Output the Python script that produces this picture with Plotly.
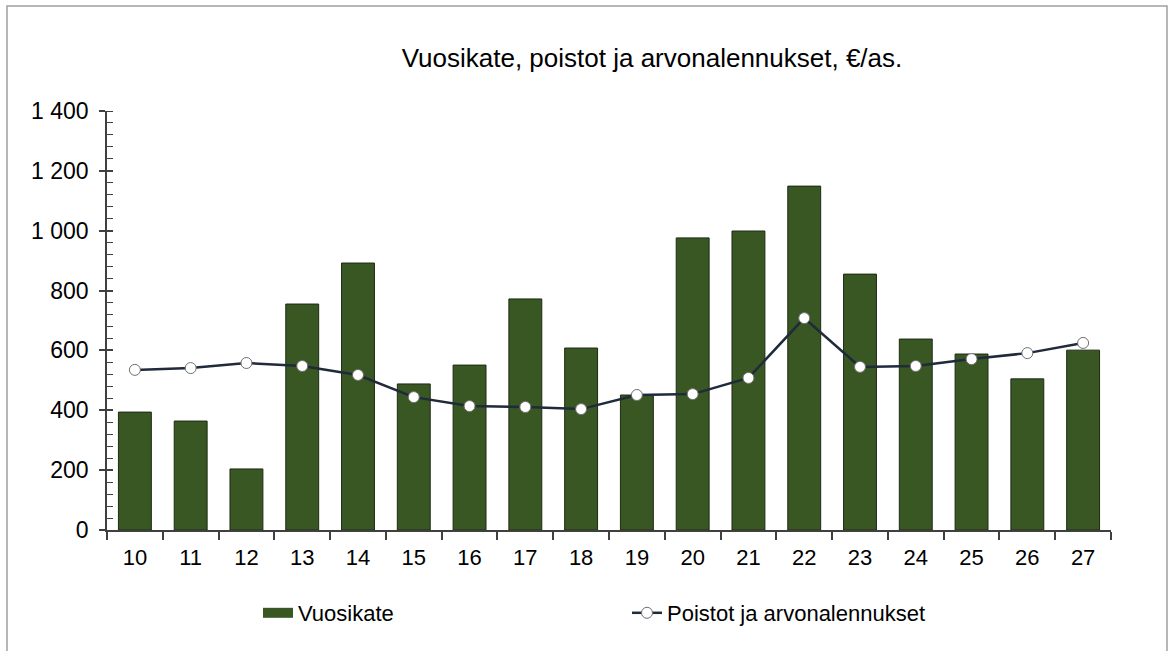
import plotly.graph_objects as go

categories = ["10","11","12","13","14","15","16","17","18","19","20","21","22","23","24","25","26","27"]
vuosikate = [394, 364, 204, 755, 892, 488, 551, 772, 608, 451, 976, 999, 1149, 855, 638, 588, 505, 601]
poistot = [535, 541, 558, 548, 518, 444, 414, 411, 404, 451, 454, 508, 708, 545, 548, 571, 591, 625]

W, H = 1170, 651
L, R, T, B = 107, 59, 111, 121
pw, ph = W - L - R, H - T - B

bar_color = "#395723"

fig = go.Figure()
fig.add_trace(go.Bar(
    x=categories, y=vuosikate, name="Vuosikate", showlegend=False,
    marker=dict(color=bar_color, line=dict(color="#1e2a14", width=1)),
))
# legend-only entry imitating the wide bar swatch
fig.add_trace(go.Scatter(
    x=[categories[0]], y=[None], name="Vuosikate", mode="lines",
    line=dict(color=bar_color, width=12), hoverinfo="skip",
))
fig.add_trace(go.Scatter(
    x=categories, y=poistot, name="Poistot ja arvonalennukset",
    mode="lines+markers",
    line=dict(color="#1f2a3a", width=2.5),
    marker=dict(symbol="circle", size=11, color="white", line=dict(color="#707070", width=1)),
))
# overlay axis for crossing major ticks
fig.add_trace(go.Scatter(x=[categories[0]], y=[None], yaxis="y2", showlegend=False, hoverinfo="skip"))

font = "Liberation Sans, Arial, sans-serif"
fig.update_layout(
    width=W, height=H,
    margin=dict(l=L, r=R, t=T, b=B, autoexpand=False),
    paper_bgcolor="white", plot_bgcolor="white",
    separators=", ",
    font=dict(family=font, color="#000000", size=22),
    title=dict(text="Vuosikate, poistot ja arvonalennukset, €/as.", x=652 / W,
               xanchor="center", y=1 - 58 / H, yanchor="middle",
               font=dict(family=font, size=26, color="#000000")),
    bargap=0.41,
    showlegend=True,
    legend=dict(orientation="h", x=(258 - L) / pw, xanchor="left", y=(H - B - 613) / ph, yanchor="middle",
                font=dict(family=font, size=22, color="#000000"), entrywidth=324, entrywidthmode="pixels",
                bgcolor="rgba(0,0,0,0)", traceorder="normal"),
    xaxis=dict(
        type="category", categoryorder="array", categoryarray=categories,
        range=[-0.5, len(categories) - 0.5],
        showline=True, linecolor="#404040", linewidth=1.5,
        ticks="outside", tickson="boundaries", ticklen=8, tickcolor="#404040", tickwidth=1.5,
        showgrid=False, zeroline=False, tickfont=dict(size=22, family=font), ticklabelstandoff=7,
    ),
    yaxis=dict(
        range=[0, 1400], dtick=200, tickformat=",d",
        showline=True, linecolor="#404040", linewidth=1.5,
        ticks="outside", ticklen=6, tickcolor="#404040", tickwidth=1.5,
        minor=dict(dtick=40, ticks="inside", ticklen=6, tickcolor="#404040", tickwidth=1.2, showgrid=False),
        showgrid=False, zeroline=False, tickfont=dict(size=23, family=font), ticklabelstandoff=6,
    ),
    yaxis2=dict(
        range=[0, 1400], dtick=200, overlaying="y", side="left",
        ticks="inside", ticklen=6, tickcolor="#404040", tickwidth=1.5,
        showticklabels=False, showgrid=False, zeroline=False, showline=False,
    ),
    shapes=[dict(type="rect", xref="paper", yref="paper",
                 x0=(7 - L) / pw, x1=(1167 - L) / pw,
                 y0=(H - B - 660) / ph, y1=(H - B - 6) / ph,
                 line=dict(color="#a0a0a0", width=1.5), fillcolor="rgba(0,0,0,0)", layer="below")],
)

fig.write_html("out.html", config={"displayModeBar": False},
               post_script="document.body.style.margin='0';document.body.style.overflow='hidden';")
